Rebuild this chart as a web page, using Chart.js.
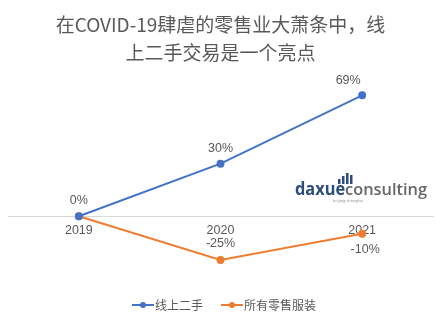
<!DOCTYPE html>
<html>
<head>
<meta charset="utf-8">
<script src="https://cdn.jsdelivr.net/npm/chart.js@4.4.1/dist/chart.umd.min.js"></script>
<style>
  body { margin: 0; background: #fff; }
  #wrap { width: 448px; height: 325px; }
</style>
</head>
<body>
<div id="wrap"><canvas id="resale" width="448" height="325"></canvas></div>
<script>
// chart values
var years = ['2019', '2020', '2021'];
var onlineSecondHand = [0, 30, 69];
var allRetailApparel = [0, -25, -10];
var seriesNames = ['线上二手', '所有零售服装'];
var titleLines = ['在COVID-19肆虐的零售业大萧条中，线', '上二手交易是一个亮点'];

var BLUE = '#4472c4';
var ORANGE = '#ed7d31';
var GREY = '#595959';
var LATIN = '"Liberation Sans", Arial, sans-serif';

// legend marker: short line with a dot, line sits on the right side of the image
function legendMarker(color) {
  var c = document.createElement('canvas');
  c.width = 34; c.height = 8;
  var ctx = c.getContext('2d');
  ctx.strokeStyle = color;
  ctx.lineWidth = 2;
  ctx.beginPath();
  ctx.moveTo(12, 4); ctx.lineTo(34, 4);
  ctx.stroke();
  ctx.fillStyle = color;
  ctx.beginPath();
  ctx.arc(23, 4, 3, 0, Math.PI * 2);
  ctx.fill();
  return c;
}

// value labels next to the points
var pointLabels = {
  id: 'pointLabels',
  afterDatasetsDraw: function(chart, args, opts) {
    var ctx = chart.ctx;
    ctx.save();
    ctx.font = '12.5px ' + LATIN;
    ctx.fillStyle = GREY;
    ctx.textAlign = 'center';
    ctx.textBaseline = 'middle';
    chart.data.datasets.forEach(function(ds, di) {
      var meta = chart.getDatasetMeta(di);
      var offs = opts.offsets[di];
      meta.data.forEach(function(pt, i) {
        if (!offs[i]) return;
        ctx.fillText(ds.data[i] + '%', pt.x + offs[i][0], pt.y + offs[i][1]);
      });
    });
    ctx.restore();
  }
};

// company mark in the right middle of the plot
var brandMark = {
  id: 'brandMark',
  afterDraw: function(chart) {
    var ctx = chart.ctx;
    ctx.save();
    ctx.fillStyle = '#2d4c7c';
    var bars = [[338, 5], [342, 8], [346, 11], [350, 9]];
    bars.forEach(function(b) { ctx.fillRect(b[0], 184 - b[1], 2.5, b[1]); });

    ctx.textBaseline = 'alphabetic';
    ctx.textAlign = 'left';
    var size = 17;
    var bold = 'bold ' + size + 'px "Open Sans", sans-serif';
    var semi = '600 ' + size + 'px "Open Sans", sans-serif';
    ctx.font = bold;
    var w1 = ctx.measureText('daxue').width;
    ctx.font = semi;
    var w = w1 + ctx.measureText('consulting').width;
    ctx.translate(295, 195);
    ctx.scale(132 / w, 1);
    ctx.font = bold;
    ctx.fillStyle = '#2d4c7c';
    ctx.fillText('daxue', 0, 0);
    ctx.font = semi;
    ctx.fillStyle = '#666666';
    ctx.fillText('consulting', w1, 0);
    ctx.setTransform(1, 0, 0, 1, 0, 0);
    ctx.font = '4px "Open Sans", sans-serif';
    ctx.fillStyle = '#8a8a8a';
    ctx.fillText('beijing shanghai', 333, 202);
    ctx.restore();
  }
};

var chart = new Chart('resale', {
  type: 'line',
  plugins: [pointLabels, brandMark],
  data: {
    labels: years,
    datasets: [
      {
        label: seriesNames[0],
        data: onlineSecondHand,
        borderColor: BLUE,
        backgroundColor: BLUE,
        borderWidth: 2,
        pointRadius: 3,
        pointHoverRadius: 3,
        tension: 0
      },
      {
        label: seriesNames[1],
        data: allRetailApparel,
        borderColor: ORANGE,
        backgroundColor: ORANGE,
        borderWidth: 2,
        pointRadius: 3,
        pointHoverRadius: 3,
        tension: 0
      }
    ]
  },
  options: {
    responsive: false,
    animation: false,
    layout: { padding: { left: 8, right: 15, top: 0, bottom: 4 } },
    scales: {
      x: {
        position: { y: 0 },
        offset: true,
        grid: { display: false, drawTicks: false },
        border: { display: true, color: '#d9d9d9', width: 1 },
        ticks: {
          color: GREY,
          padding: 7,
          font: { family: LATIN, size: 12.5 }
        }
      },
      y: {
        display: false,
        min: -41,
        max: 80
      }
    },
    plugins: {
      title: {
        display: true,
        text: titleLines,
        color: GREY,
        font: { family: '"Noto Sans CJK SC", sans-serif', size: 19, weight: 'normal', lineHeight: 1.45 },
        padding: { top: 11, bottom: 10 }
      },
      legend: {
        position: 'bottom',
        labels: {
          color: GREY,
          font: { family: '"Noto Sans CJK SC", sans-serif', size: 12 },
          usePointStyle: true,
          pointStyleWidth: 24,
          padding: 11,
          generateLabels: function(chart) {
            return chart.data.datasets.map(function(ds, i) {
              return {
                text: ds.label,
                pointStyle: legendMarker(ds.borderColor),
                fillStyle: ds.borderColor,
                strokeStyle: ds.borderColor,
                lineWidth: 0,
                fontColor: GREY,
                datasetIndex: i
              };
            });
          }
        }
      },
      tooltip: { enabled: false },
      pointLabels: {
        offsets: [
          [[0, -16], [0, -15], [-14, -15]],
          [null, [0, -16], [3, 16]]
        ]
      }
    }
  }
});
</script>
</body>
</html>
